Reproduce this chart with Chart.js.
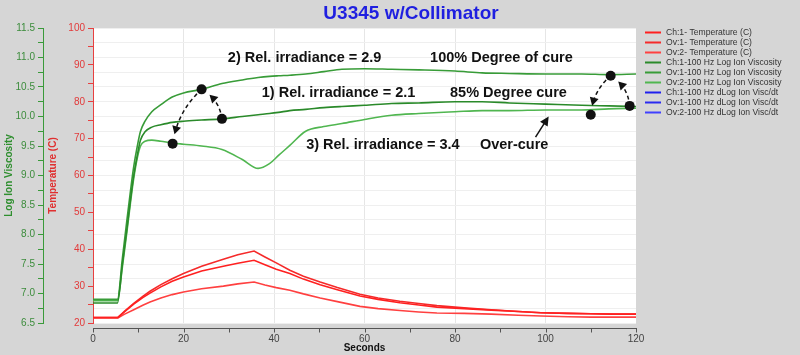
<!DOCTYPE html>
<html>
<head>
<meta charset="utf-8">
<script src="https://cdn.jsdelivr.net/npm/chart.js@4.4.1/dist/chart.umd.min.js"></script>
<style>
html,body{margin:0;padding:0;background:#d6d6d6;}
canvas{display:block;}
</style>
</head>
<body>
<canvas id="c" width="800" height="355"></canvas>
<script>
// ---- Data ----
const chartTitle = 'U3345 w/Collimator';
const xTitle = 'Seconds';
const yTempTitle = 'Temperature (C)';
const yViscTitle = 'Log Ion Viscosity';

const tempTime = [0, 5.5, 7, 9, 11, 12.6, 15, 17.5, 20, 24, 28.8, 32, 35.6, 38, 40.5, 43.5, 46.5, 50.2, 54, 59, 63, 67.8, 72, 76, 82, 88, 94, 99, 105, 110, 115, 120];
const tempCh1  = [21.5, 21.5, 23.1, 25.1, 26.9, 28.1, 29.8, 31.3, 32.5, 34.1, 35.4, 36.2, 37.0, 35.8, 34.6, 33.4, 31.9, 30.4, 29.0, 27.3, 26.4, 25.5, 24.9, 24.3, 23.9, 23.5, 23.1, 22.8, 22.6, 22.5, 22.4, 22.4];
const tempOv1  = [21.5, 21.5, 23.2, 25.3, 27.2, 28.6, 30.4, 32.0, 33.4, 35.4, 37.3, 38.5, 39.5, 37.9, 36.3, 34.3, 32.7, 31.1, 29.6, 27.8, 26.8, 25.9, 25.3, 24.7, 24.1, 23.6, 23.1, 22.8, 22.6, 22.5, 22.4, 22.4];
const tempOv2  = [21.4, 21.4, 22.4, 23.6, 24.8, 25.7, 26.8, 27.7, 28.4, 29.3, 30.0, 30.6, 31.1, 30.3, 29.6, 28.9, 27.9, 26.8, 25.8, 24.5, 23.9, 23.4, 23.0, 22.7, 22.6, 22.4, 22.1, 21.9, 21.7, 21.6, 21.6, 21.6];

const viscTime = [0, 5.4, 6.5, 7.5, 8.3, 9, 9.8, 10.5, 11.5, 13, 15, 17.5, 20, 24, 28.5, 33, 36.5, 39, 41, 43.5, 47, 51, 55, 60, 66, 72, 80, 86, 92, 100, 108, 114, 120];
// 1) Rel. irradiance = 2.1 (85% degree of cure)
const viscCh1 = [6.84, 6.84, 7.5, 8.1, 8.6, 9.0, 9.35, 9.6, 9.74, 9.82, 9.86, 9.9, 9.92, 9.94, 9.96, 10.0, 10.03, 10.05, 10.07, 10.1, 10.12, 10.15, 10.17, 10.19, 10.22, 10.23, 10.25, 10.25, 10.23, 10.21, 10.19, 10.18, 10.17];
// 2) Rel. irradiance = 2.9 (100% degree of cure)
const viscOv1 = [6.90, 6.90, 7.6, 8.25, 8.75, 9.15, 9.5, 9.75, 9.92, 10.08, 10.2, 10.33, 10.4, 10.46, 10.56, 10.62, 10.66, 10.68, 10.69, 10.70, 10.72, 10.76, 10.80, 10.81, 10.80, 10.79, 10.77, 10.74, 10.73, 10.72, 10.72, 10.71, 10.72];
// 3) Rel. irradiance = 3.4 (over-cure)
const viscOv2 = [6.88, 6.88, 7.45, 8.05, 8.55, 8.95, 9.3, 9.5, 9.58, 9.6, 9.58, 9.55, 9.53, 9.5, 9.44, 9.27, 9.12, 9.2, 9.34, 9.51, 9.75, 9.83, 9.88, 9.95, 10.02, 10.05, 10.08, 10.1, 10.1, 10.11, 10.11, 10.13, 10.14];

const legendLabels = [
  'Ch:1- Temperature (C)', 'Ov:1- Temperature (C)', 'Ov:2- Temperature (C)',
  'Ch:1-100 Hz Log Ion Viscosity', 'Ov:1-100 Hz Log Ion Viscosity', 'Ov:2-100 Hz Log Ion Viscosity',
  'Ch:1-100 Hz dLog Ion Visc/dt', 'Ov:1-100 Hz dLog Ion Visc/dt', 'Ov:2-100 Hz dLog Ion Visc/dt'
];

// annotation dots (seconds, log ion viscosity)
const dotTime = [24, 28.5, 17.6, 114.4, 118.6, 110];
const dotVisc = [10.46, 9.96, 9.54, 10.69, 10.18, 10.03];
// curved dashed arrows: [from dot, to dot]
const arcFrom = [1, 0, 4, 3];
const arcTo   = [0, 2, 3, 5];

const noteText = ['2) Rel. irradiance = 2.9', '100% Degree of cure', '1) Rel. irradiance = 2.1', '85% Degree cure', '3) Rel. irradiance = 3.4', 'Over-cure'];
const noteTime = [29.8, 74.5, 37.3, 78.9, 47.1, 85.5];
const noteVisc = [10.99, 10.99, 10.39, 10.39, 9.51, 9.51];

// Over-cure pointer (tail -> tip), seconds / log ion viscosity
const pointerTime = [97.8, 100.7];
const pointerVisc = [9.65, 10.0];

// ---- Build chart ----
const pts = (xs, ys) => xs.map((x, i) => ({x, y: ys[i]}));
const RED = ['#ff2020', '#f52a2a', '#ff4040'];
const GREEN = ['#2a8a2a', '#389c38', '#50b650'];
const BLUE = ['#2020ee', '#2a2af0', '#4040ff'];

function ds(label, data, color, axis, smooth) {
  const d = {label, data, borderColor: color, backgroundColor: color, borderWidth: 1.6,
    pointRadius: 0, yAxisID: axis, fill: false, tension: 0};
  if (smooth) d.cubicInterpolationMode = 'monotone';
  return d;
}

const datasets = [
  ds(legendLabels[0], pts(tempTime, tempCh1), RED[0], 'yT', false),
  ds(legendLabels[1], pts(tempTime, tempOv1), RED[1], 'yT', false),
  ds(legendLabels[2], pts(tempTime, tempOv2), RED[2], 'yT', false),
  ds(legendLabels[3], pts(viscTime, viscCh1), GREEN[0], 'yL', true),
  ds(legendLabels[4], pts(viscTime, viscOv1), GREEN[1], 'yL', true),
  ds(legendLabels[5], pts(viscTime, viscOv2), GREEN[2], 'yL', true),
  ds(legendLabels[6], [], BLUE[0], 'yL', false),
  ds(legendLabels[7], [], BLUE[1], 'yL', false),
  ds(legendLabels[8], [], BLUE[2], 'yL', false)
];

const FONT = 'Arial, "Liberation Sans", sans-serif';
Chart.defaults.font.family = FONT;

const bgPlugin = {
  id: 'bg',
  beforeDraw(chart) {
    const {ctx, chartArea: a} = chart;
    ctx.save();
    ctx.fillStyle = '#d6d6d6';
    ctx.fillRect(0, 0, chart.width, chart.height);
    ctx.fillStyle = '#ffffff';
    ctx.fillRect(a.left, a.top, a.right - a.left, a.bottom - a.top);
    ctx.restore();
  }
};

function arrowHead(ctx, x, y, ang, len, half) {
  ctx.beginPath();
  ctx.moveTo(x, y);
  ctx.lineTo(x - len * Math.cos(ang) + half * Math.sin(ang), y - len * Math.sin(ang) - half * Math.cos(ang));
  ctx.lineTo(x - len * Math.cos(ang) - half * Math.sin(ang), y - len * Math.sin(ang) + half * Math.cos(ang));
  ctx.closePath();
  ctx.fill();
}

const overlayPlugin = {
  id: 'overlay',
  afterDraw(chart) {
    const {ctx, chartArea: a} = chart;
    const xs = chart.scales.x, yL = chart.scales.yL;
    ctx.save();

    // x axis line with ticks (offset below plot)
    const ay = a.bottom + 5.5;
    ctx.strokeStyle = '#555';
    ctx.lineWidth = 1;
    ctx.beginPath();
    ctx.moveTo(a.left, ay); ctx.lineTo(a.right + 1, ay);
    for (const t of xs.ticks) {
      const px = Math.round(xs.getPixelForValue(t.value)) + 0.5;
      ctx.moveTo(px, ay); ctx.lineTo(px, ay + 4);
    }
    ctx.stroke();

    // dots
    const dp = dotTime.map((t, i) => ({x: xs.getPixelForValue(t), y: yL.getPixelForValue(dotVisc[i])}));

    // dashed curved arrows
    ctx.strokeStyle = '#111';
    ctx.fillStyle = '#111';
    ctx.lineWidth = 1.5;
    arcFrom.forEach((f, k) => {
      const p0 = dp[f], p1 = dp[arcTo[k]];
      const dx = p1.x - p0.x, dy = p1.y - p0.y, len = Math.hypot(dx, dy);
      const bulge = len > 45 ? 11 : 9;
      const cx = (p0.x + p1.x) / 2 + (-dy / len) * bulge;
      const cy = (p0.y + p1.y) / 2 + (dx / len) * bulge;
      const samples = [];
      for (let i = 0; i <= 60; i++) {
        const t = i / 60, u = 1 - t;
        samples.push({x: u*u*p0.x + 2*u*t*cx + t*t*p1.x, y: u*u*p0.y + 2*u*t*cy + t*t*p1.y});
      }
      const startGap = 6, endGap = 9, headLen = 8;
      const keep = samples.filter(s => Math.hypot(s.x - p0.x, s.y - p0.y) > startGap && Math.hypot(s.x - p1.x, s.y - p1.y) > endGap);
      if (keep.length < 3) return;
      const tip = keep[keep.length - 1];
      const prev = keep[Math.max(0, keep.length - 6)];
      const ang = Math.atan2(tip.y - prev.y, tip.x - prev.x);
      const line = keep.filter(s => Math.hypot(s.x - tip.x, s.y - tip.y) > headLen - 1);
      ctx.setLineDash([4, 3]);
      ctx.beginPath();
      line.forEach((s, i) => i ? ctx.lineTo(s.x, s.y) : ctx.moveTo(s.x, s.y));
      ctx.stroke();
      ctx.setLineDash([]);
      arrowHead(ctx, tip.x, tip.y, ang, headLen, 4.5);
    });

    dp.forEach(p => { ctx.beginPath(); ctx.arc(p.x, p.y, 5, 0, Math.PI * 2); ctx.fill(); });

    // over-cure pointer
    const t0 = {x: xs.getPixelForValue(pointerTime[0]), y: yL.getPixelForValue(pointerVisc[0])};
    const t1 = {x: xs.getPixelForValue(pointerTime[1]), y: yL.getPixelForValue(pointerVisc[1])};
    const pang = Math.atan2(t1.y - t0.y, t1.x - t0.x);
    ctx.beginPath();
    ctx.moveTo(t0.x, t0.y);
    ctx.lineTo(t1.x - 7 * Math.cos(pang), t1.y - 7 * Math.sin(pang));
    ctx.stroke();
    arrowHead(ctx, t1.x, t1.y, pang, 9, 4.5);

    // notes
    ctx.font = 'bold 14.5px ' + FONT;
    ctx.textBaseline = 'middle';
    ctx.textAlign = 'left';
    ctx.fillStyle = '#111';
    noteText.forEach((s, i) => ctx.fillText(s, xs.getPixelForValue(noteTime[i]), yL.getPixelForValue(noteVisc[i])));

    // title
    ctx.font = 'bold 19px ' + FONT;
    ctx.fillStyle = '#1f1fe0';
    ctx.textAlign = 'center';
    ctx.fillText(chartTitle, chart.width / 2 + 11, 14);

    // legend
    ctx.font = '8.6px ' + FONT;
    ctx.textAlign = 'left';
    ctx.lineWidth = 2;
    chart.data.datasets.forEach((d, i) => {
      const y = 32.5 + i * 10;
      const lx = a.right + 9;
      ctx.strokeStyle = d.borderColor;
      ctx.beginPath(); ctx.moveTo(lx, y); ctx.lineTo(lx + 16, y); ctx.stroke();
      ctx.fillStyle = '#333';
      ctx.fillText(d.label, lx + 21, y);
    });
    ctx.restore();
  }
};

new Chart(document.getElementById('c'), {
  type: 'line',
  data: {datasets},
  plugins: [bgPlugin, overlayPlugin],
  options: {
    responsive: false,
    devicePixelRatio: 1,
    animation: false,
    layout: {padding: {left: 0, right: 164, top: 28, bottom: 0}},
    plugins: {legend: {display: false}, title: {display: false}, tooltip: {enabled: false}},
    scales: {
      x: {
        type: 'linear', min: 0, max: 120,
        ticks: {stepSize: 10, autoSkip: false, maxRotation: 0, padding: 10, color: '#444', font: {size: 10},
          callback: v => (v % 20 === 0 ? String(v) : '')},
        grid: {drawTicks: false, lineWidth: 1,
          color: c => (c.tick && c.tick.value % 20 === 0 && c.tick.value > 0 && c.tick.value < 120) ? '#e6e6e6' : 'rgba(0,0,0,0)'},
        border: {display: false},
        title: {display: true, text: xTitle, color: '#111', font: {size: 10, weight: 'bold'}, padding: {top: 0, bottom: 1}},
        afterFit: s => { s.height = 32; }
      },
      yT: {
        type: 'linear', position: 'left', weight: 0, min: 20, max: 100,
        ticks: {stepSize: 5, autoSkip: false, padding: 3, color: '#e23a3a', font: {size: 10},
          callback: v => (v % 10 === 0 ? String(v) : '')},
        grid: {drawOnChartArea: false, tickLength: 5, color: '#e84040', tickColor: '#e84040'},
        border: {color: '#e84040', width: 1},
        title: {display: true, text: yTempTitle, color: '#e03030', font: {size: 10, weight: 'bold'}, padding: {top: 4, bottom: 0}},
        afterFit: s => { s.width = 50; }
      },
      yL: {
        type: 'linear', position: 'left', weight: 1, min: 6.5, max: 11.5,
        ticks: {stepSize: 0.25, autoSkip: false, padding: 3, color: '#3c8c3c', font: {size: 10},
          callback: v => (Math.abs(v * 2 - Math.round(v * 2)) < 1e-6 ? v.toFixed(1) : '')},
        grid: {drawOnChartArea: true, tickLength: 5, color: '#efefef', tickColor: '#3a9a3a'},
        border: {color: '#3a9a3a', width: 1},
        title: {display: true, text: yViscTitle, color: '#2f8f2f', font: {size: 10, weight: 'bold'}, padding: {top: 3, bottom: 0}},
        afterFit: s => { s.width = 43; }
      }
    }
  }
});
</script>
</body>
</html>
